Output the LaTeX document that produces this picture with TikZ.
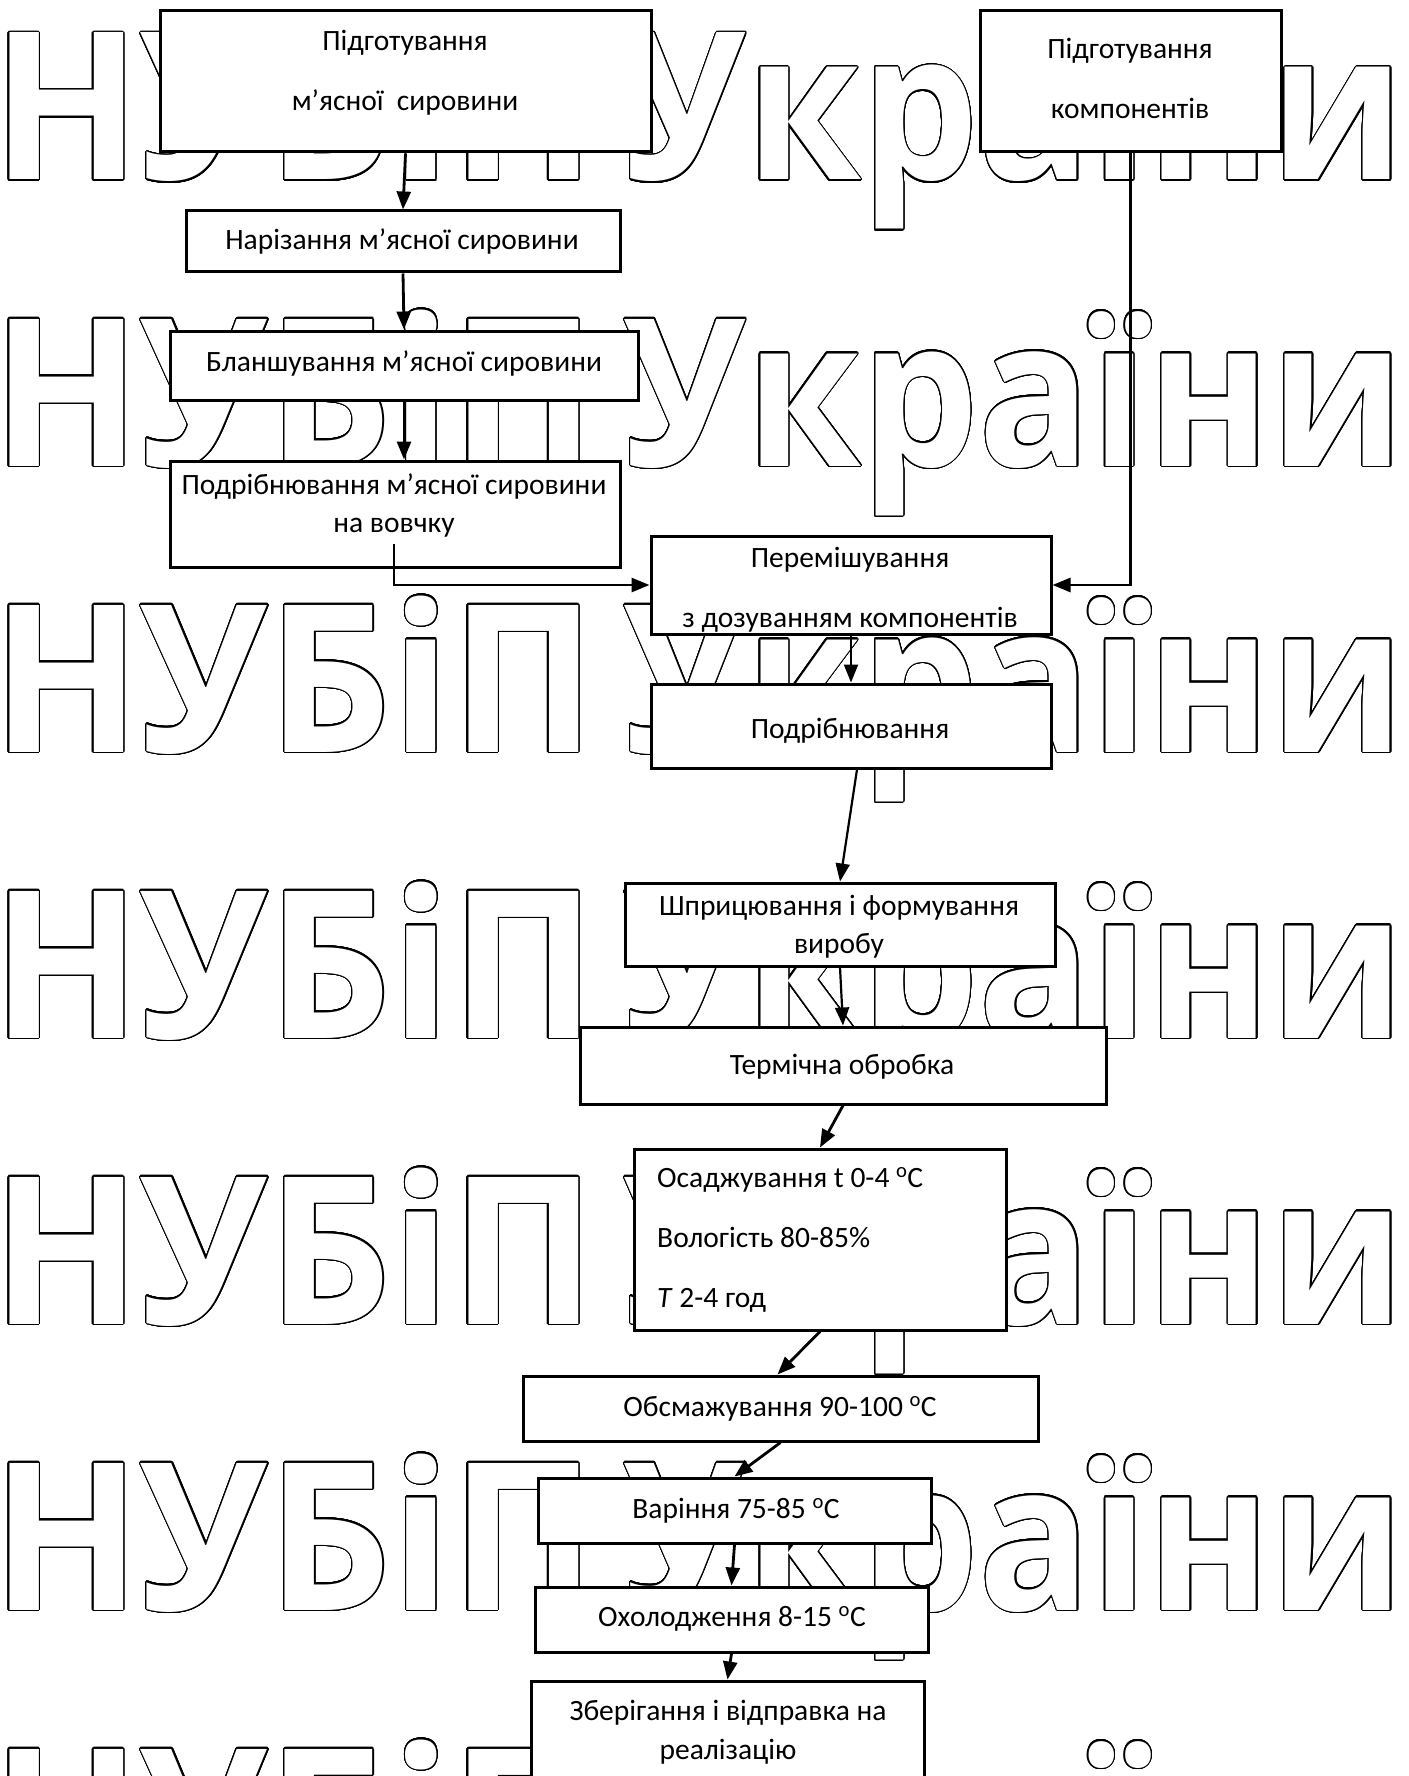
\documentclass[tikz,border=0pt]{standalone}
\usepackage{fontspec}
\usepackage{graphicx}
\setmainfont{Carlito}
\newfontfamily\wmfont{Open Sans}
\usepackage{contour}
\contourlength{1.3pt}
\contournumber{32}
\usetikzlibrary{arrows.meta}
\newlength\wmw
\settowidth\wmw{\wmfont\bfseries\fontsize{206}{206}\selectfont НУБіП України}
\begin{document}
\begin{tikzpicture}[x=1pt,y=-1pt,
  box/.style={draw, line width=3pt, fill=white, inner sep=0pt},
  lbl/.style={font=\fontsize{29.5}{34}\selectfont, inner sep=0pt, anchor=base},
  lbll/.style={lbl, anchor=base west},
  arr/.style={line width=2.8pt, -{Triangle[length=18pt,width=14pt]}},
  arrt/.style={line width=2.2pt, -{Triangle[length=18pt,width=14pt]}},
  wm/.style={inner sep=0pt, anchor=base west, font=\wmfont\bfseries\fontsize{206}{206}\selectfont},
  wmr/.style={wm, anchor=base east}]
\pgfmathsetmacro\wsa{1.035*1420/\wmw}
\pgfmathsetmacro\wsb{0.99*1420/\wmw}
\useasboundingbox (0,0) rectangle (1408,1776);
\clip (0,0) rectangle (1408,1776);
\fill[white] (0,0) rectangle (1408,1776);
% watermark
\foreach \yy/\nm in {180/w1,466/w2,752/w3,1038/w4,1324/w5,1610/w6,1896/w7}{
  \node[wm] (\nm a) at (-8,\yy) {\scalebox{\wsa}[1]{\color{white}\contour{black}{НУБіП}}};
  \node[wmr] (\nm b) at (1405,\yy) {\scalebox{\wsb}[1]{\color{white}\contour{black}{України}}};
}
% boxes
\node[box, minimum width=491pt, minimum height=141pt] (b1) at (405.5,81.5) {};
\node[box, minimum width=301pt, minimum height=141pt] (b2) at (1130.5,81.5) {};
\node[box, minimum width=434pt, minimum height=61pt] (b3) at (403,241.5) {};
\node[box, minimum width=468pt, minimum height=69pt] (b4) at (404,365.5) {};
\node[box, minimum width=450pt, minimum height=106pt] (b5) at (395,514) {};
\node[box, minimum width=400pt, minimum height=98pt] (b6) at (851,585) {};
\node[box, minimum width=400pt, minimum height=84pt] (b7) at (851,726) {};
\node[box, minimum width=430pt, minimum height=83pt] (b8) at (840,924.5) {};
\node[box, minimum width=526pt, minimum height=77pt] (b9) at (843,1065.5) {};
\node[box, minimum width=372pt, minimum height=181pt] (b10) at (820,1239.5) {};
\node[box, minimum width=515pt, minimum height=65pt] (b11) at (780.5,1408.5) {};
\node[box, minimum width=393pt, minimum height=65pt] (b12) at (734.5,1510.5) {};
\node[box, minimum width=393pt, minimum height=65pt] (b13) at (731.5,1619.5) {};
\node[box, minimum width=393pt, minimum height=130pt] (b14) at (727.5,1746) {};
% labels
\node[lbl] (t1a) at (405,51) {Підготування};
\node[lbl] (t1b) at (405,111) {м’ясної\ \ сировини};
\node[lbl] (t2a) at (1130,59) {Підготування};
\node[lbl] (t2b) at (1130,119) {компонентів};
\node[lbl] (t3) at (402,250) {Нарізання м’ясної сировини};
\node[lbl] (t4) at (404,371) {Бланшування м’ясної сировини};
\node[lbl] (t5a) at (394,494) {Подрібнювання м’ясної сировини};
\node[lbl] (t5b) at (394,532) {на вовчку};
\node[lbl] (t6a) at (850,567) {Перемішування};
\node[lbl] (t6b) at (850,627) {з дозуванням компонентів};
\node[lbl] (t7) at (850,738) {Подрібнювання};
\node[lbl] (t8a) at (839,915) {Шприцювання і формування};
\node[lbl] (t8b) at (839,953) {виробу};
\node[lbl] (t9) at (842,1074) {Термічна обробка};
\node[lbll] (t10a) at (657,1187) {Осаджування t 0-4 \textsuperscript{o}C};
\node[lbll] (t10b) at (657,1247) {Вологість 80-85\%};
\node[lbll] (t10c) at (657,1307) {\textit{T} 2-4 год};
\node[lbl] (t11) at (780,1416) {Обсмажування 90-100 \textsuperscript{o}C};
\node[lbl] (t12) at (736,1518) {Варіння 75-85 \textsuperscript{o}C};
\node[lbl] (t13) at (732,1626) {Охолодження 8-15 \textsuperscript{o}C};
\node[lbl] (t14a) at (728,1720) {Зберігання і відправка на};
\node[lbl] (t14b) at (728,1759) {реалізацію};
% connectors
\coordinate (c5) at (394,544);
\draw[arr] (b1.south) -- (b3.north);
\draw[arr] (b3.south) -- (b4.north);
\draw[arr] (b4.south) -- (b4.south |- b5.north);
\draw[arr] (c5) |- (b6.west);
\draw[arr] (b2.south) |- (b6.east);
\draw[arrt] (b6.south) -- (b7.north);
\draw[arrt] ([xshift=6pt]b7.south) -- (b8.north);
\draw[arrt] (b8.south) -- (b9.north);
\draw[arr] (b9.south) -- (b10.north);
\draw[arr] (b10.south) -- ([xshift=-3pt]b11.north);
\draw[arr] (b11.south) -- (b12.north);
\draw[arr] (b12.south) -- (b13.north);
\draw[arr] (b13.south) -- (b14.north);
\end{tikzpicture}
\end{document}
